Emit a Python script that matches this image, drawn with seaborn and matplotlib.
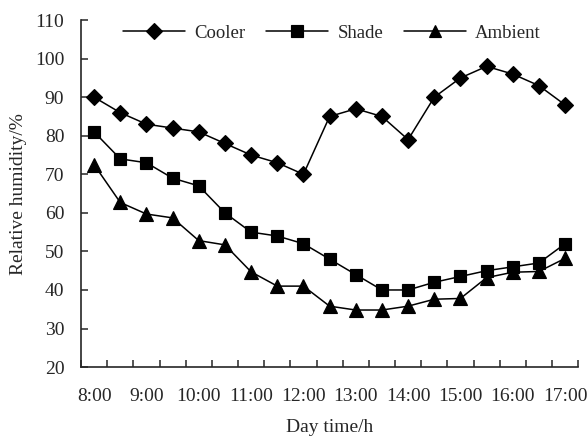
import matplotlib
matplotlib.use("Agg")
import matplotlib.pyplot as plt
from matplotlib.ticker import FixedLocator, NullFormatter
import seaborn as sns
import pandas as pd

# Half-hourly sampling times
times = ["8:00", "8:30", "9:00", "9:30", "10:00", "10:30", "11:00", "11:30",
         "12:00", "12:30", "13:00", "13:30", "14:00", "14:30", "15:00",
         "15:30", "16:00", "16:30", "17:00"]

# Relative humidity (%) for each treatment
cooler = [90, 86, 83, 82, 81, 78, 75, 73, 70, 85, 87, 85, 79, 90, 95, 98, 96, 93, 88]
shade = [81, 74, 73, 69, 67, 60, 55, 54, 52, 48, 44, 40, 40, 42, 43.5, 45, 46, 47, 52]
ambient = [72.5, 62.7, 59.7, 58.7, 52.8, 51.7, 44.7, 41, 41, 35.8, 34.8, 34.8, 35.8,
           37.6, 37.8, 43.2, 44.6, 44.8, 48.2]

series_names = ["Cooler", "Shade", "Ambient"]
series_markers = ["D", "s", "^"]

df = pd.concat([
    pd.DataFrame({"time": times, "rh": vals, "series": name})
    for name, vals in zip(series_names, [cooler, shade, ambient])
], ignore_index=True)

FS = 14

sns.set_style("ticks")
plt.rcParams["font.family"] = ["Liberation Serif", "DejaVu Serif"]
plt.rcParams["font.size"] = FS

fig = plt.figure(figsize=(5.87, 4.37), dpi=100)
ax = fig.add_axes([0.138, 0.160, 0.847, 0.794])

sns.pointplot(
    data=df, x="time", y="rh", hue="series", order=times,
    hue_order=series_names, palette=["black"] * 3,
    markers=series_markers, linestyles=["-"] * 3,
    errorbar=None, dodge=False, ax=ax,
    markersize=8, linewidth=1.1,
)

# Marker sizes tuned per series
for line, ms in zip(ax.lines[:3], [8.5, 9, 10.5]):
    line.set_markersize(ms)

n = len(times)
ax.set_xlim(-0.5, n - 0.5)
ax.set_ylim(20, 110)
ax.set_yticks(range(20, 111, 10))

# Ticks between categories, labels on every other category
ax.xaxis.set_major_locator(FixedLocator([i - 0.5 for i in range(n + 1)]))
ax.xaxis.set_major_formatter(NullFormatter())
ax.xaxis.set_minor_locator(FixedLocator(list(range(0, n, 2))))
ax.set_xticklabels([times[i] for i in range(0, n, 2)], minor=True)
ax.tick_params(axis="x", which="major", direction="in", length=5, width=1.1)
ax.tick_params(axis="x", which="minor", length=0, pad=15, labelsize=FS)
ax.tick_params(axis="y", direction="in", length=5, width=1.1, labelsize=FS, pad=12)

for side in ["left", "bottom"]:
    ax.spines[side].set_linewidth(1.2)
sns.despine(ax=ax)

ax.set_xlabel("Day time/h", fontsize=FS, labelpad=10)
ax.set_ylabel("Relative humidity/%", fontsize=FS, labelpad=6)

handles, labels = ax.get_legend_handles_labels()
ax.legend(handles, labels, loc="center", bbox_to_anchor=(0.505, 0.962),
          ncol=3, frameon=False, handlelength=3.3, handletextpad=0.5,
          columnspacing=1.1, fontsize=FS - 0.5, borderaxespad=0)

fig.savefig("out.png", dpi=100)
